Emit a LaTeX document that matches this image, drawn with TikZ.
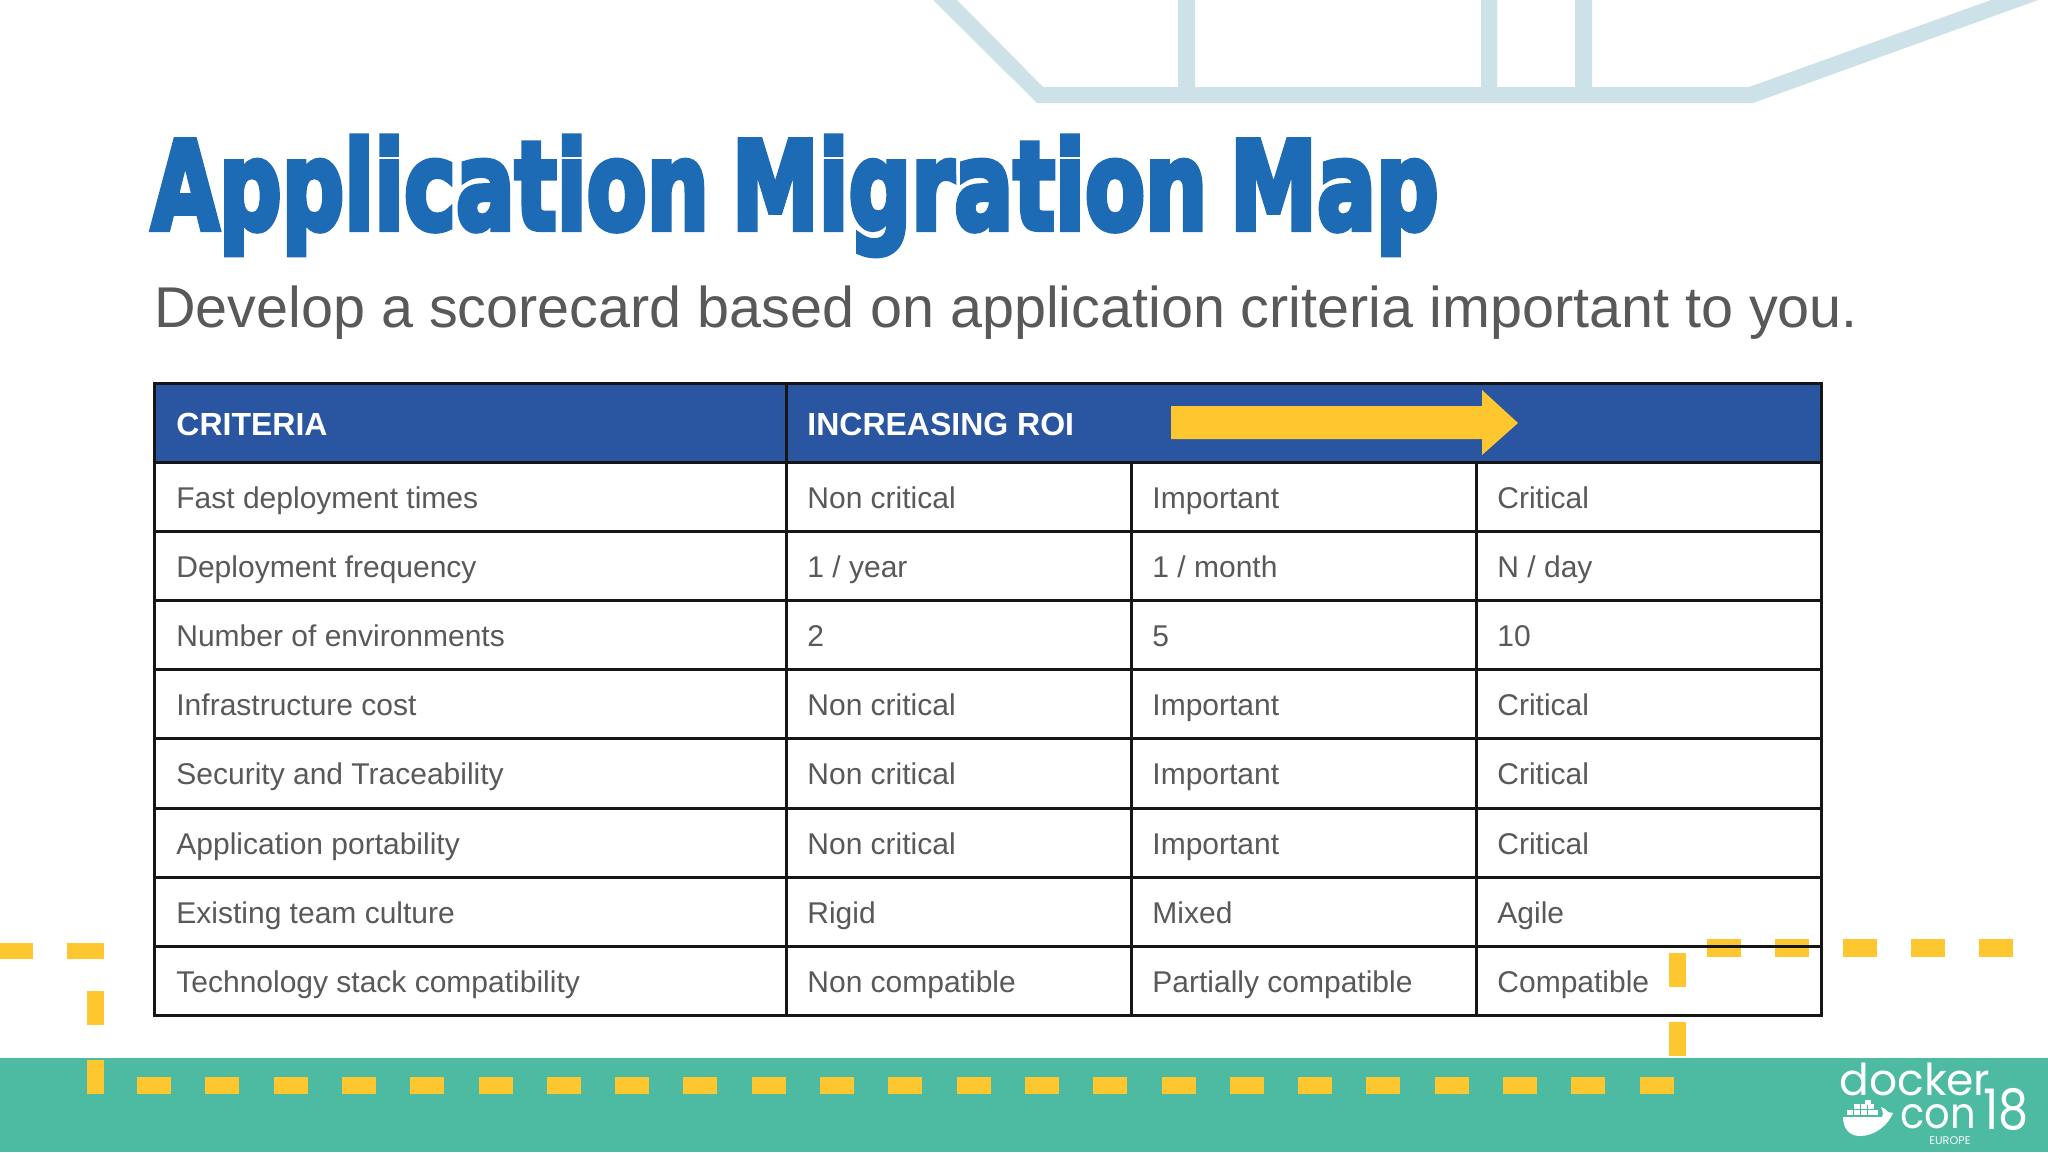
\documentclass[tikz,border=0pt]{standalone}
\usepackage{fontspec}
\usepackage{graphicx}
\setmainfont{Liberation Sans}
\newfontfamily\titlefont[FakeBold=5,WordSpace=0.75]{DejaVu Sans Bold}
\newfontfamily\logofont{Poppins}
\definecolor{titleblue}{HTML}{1E6BB5}
\definecolor{headblue}{HTML}{2A55A0}
\definecolor{graytext}{HTML}{595959}
\definecolor{dashyellow}{HTML}{FFC72F}
\definecolor{teal}{HTML}{4CBBA2}
\definecolor{paleblue}{HTML}{CCE2E8}
\definecolor{gridline}{HTML}{161616}
\tikzset{
  cell/.style={anchor=base west,inner sep=0pt,text=graytext,font=\fontsize{15}{17}\selectfont},
  headcell/.style={anchor=base west,inner sep=0pt,text=white,font=\fontsize{16}{19}\selectfont\bfseries},
  grid/.style={draw=gridline,line width=1.5pt},
  logotext/.style={anchor=base west,inner sep=0pt,text=white,font=\logofont}
}
\begin{document}
\begin{tikzpicture}[x=0.5pt,y=-0.5pt]
\useasboundingbox (0,0) rectangle (2048,1152);
\clip (0,0) rectangle (2048,1152);
\fill[white] (0,0) rectangle (2048,1152);
% top frame
\fill[paleblue] (933,0) -- (1037,103) -- (1753,103) -- (2038,0) -- (1991,0) -- (1749,87) -- (1592,87) -- (1592,0) -- (1575,0) -- (1575,87) -- (1497,87) -- (1497,0) -- (1481,0) -- (1481,87) -- (1195,87) -- (1195,0) -- (1178,0) -- (1178,87) -- (1043,87) -- (957,0) -- cycle;
% teal band
\fill[teal] (0,1058) rectangle (2048,1152);
% dashes
\fill[dashyellow] (0,943) rectangle (33,959);
\fill[dashyellow] (67,943) rectangle (104,959);
\fill[dashyellow] (87,991) rectangle (104,1025);
\fill[dashyellow] (87,1060) rectangle (104,1094);
\foreach \i in {0,...,22} {
  \fill[dashyellow] ({137+68.3*\i},1077) rectangle ({171+68.3*\i},1094);
}
\fill[dashyellow] (1669,953) rectangle (1686,987);
\fill[dashyellow] (1669,1022) rectangle (1686,1056);
\foreach \i in {0,...,4} {
  \fill[dashyellow] ({1707+68*\i},939) rectangle ({1741+68*\i},957);
}
% table
\fill[headblue] (154,383) rectangle (1821,462);
\foreach \y in {462,531.2,600.4,669.6,738.8,808,877.2,946.4,1015.6} {
  \draw[grid] (154,\y) -- (1821,\y);
}
\draw[grid] (154,383) rectangle (1821,1015.6);
\draw[grid] (786,383) -- (786,1015.6);
\draw[grid] (1131,462) -- (1131,1015.6);
\draw[grid] (1476,462) -- (1476,1015.6);
% arrow
\fill[dashyellow] (1171,406) -- (1482,406) -- (1482,390) -- (1518,423) -- (1482,455) -- (1482,439) -- (1171,439) -- cycle;
% title
\node[anchor=base west,inner sep=0pt,text=titleblue] (title) at (151,229) {\resizebox{643.5pt}{\height}{\titlefont\fontsize{61}{70}\selectfont Application Migration Map}};
\node[anchor=base west,inner sep=0pt,text=graytext,font=\fontsize{28.75}{34}\selectfont] (subtitle) at (154,327) {Develop a scorecard based on application criteria important to you.};
% header
\node[headcell] (hcrit) at (176,435) {CRITERIA};
\node[headcell] (hroi) at (807,435) {INCREASING ROI};
% rows
\foreach \a/\b/\c/\d [count=\r from 0] in {
 Fast deployment times/Non critical/Important/Critical,
 Deployment frequency/{1 / year}/{1 / month}/{N / day},
 Number of environments/2/5/10,
 Infrastructure cost/Non critical/Important/Critical,
 Security and Traceability/Non critical/Important/Critical,
 Application portability/Non critical/Important/Critical,
 Existing team culture/Rigid/Mixed/Agile,
 Technology stack compatibility/Non compatible/Partially compatible/Compatible}{
  \pgfmathsetmacro{\yy}{508+69.2*\r}
  \node[cell] (a\r) at (176,\yy) {\a};
  \node[cell] (b\r) at (807,\yy) {\b};
  \node[cell] (c\r) at (1152,\yy) {\c};
  \node[cell] (d\r) at (1497,\yy) {\d};
}
% logo
\node[logotext,font=\logofont\fontsize{22}{24}\selectfont] (logodocker) at (1839,1095) {docker};
\node[logotext,font=\logofont\fontsize{21.5}{24}\selectfont] (logocon) at (1900,1128) {\scalebox{0.93}[1]{con}};
\node[logotext,font=\logofont\fontsize{28}{30}\selectfont] (logoyear) at (1983,1129) {\scalebox{0.85}[1]{18}};
\node[logotext,font=\logofont\fontsize{5.6}{7}\selectfont] (logoeu) at (1929,1144) {EUROPE};
\fill[white] (1843,1117) -- (1882,1117) .. controls (1884,1114) and (1882,1110) .. (1881,1107) .. controls (1885,1108) and (1887,1111) .. (1888,1112) -- (1893,1113) .. controls (1888,1125) and (1875,1136) .. (1860,1136) .. controls (1849,1136) and (1843,1128) .. (1843,1117) -- cycle;
\foreach \cx/\cy in {1847/1110,1854/1110,1861/1110,1868/1110,1872/1110,1854/1104,1861/1104,1868/1104,1865/1100}{
  \fill[white] (\cx,\cy) rectangle ++(5.5,5);
}
\end{tikzpicture}
\end{document}
